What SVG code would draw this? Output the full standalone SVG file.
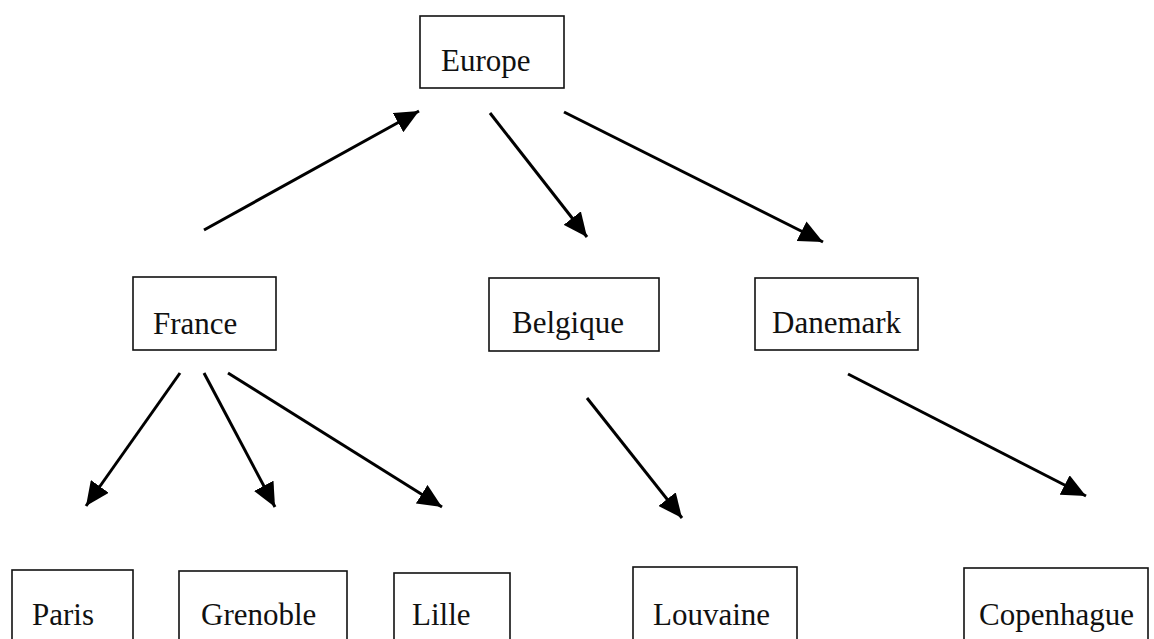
<svg xmlns="http://www.w3.org/2000/svg" width="1154" height="639" viewBox="0 0 1154 639">
  <style>
    .box { fill: #ffffff; stroke: #111111; stroke-width: 1.6; }
    .lbl { font-family: "Liberation Serif", "Times New Roman", serif; font-size: 31px; fill: #111111; }
    .edge { stroke: #000000; stroke-width: 3; fill: none; marker-end: url(#head); }
  </style>
  <defs>
    <marker id="head" markerUnits="userSpaceOnUse" markerWidth="26" markerHeight="22" refX="24" refY="11" orient="auto">
      <path d="M0,0 L24,11 L0,22 Z" fill="#000000"/>
    </marker>
  </defs>
  <rect width="1154" height="639" fill="#ffffff"/>

  <!-- connectors -->
  <g id="connectors">
    <line class="edge" x1="204" y1="230" x2="419" y2="111"/>
    <line class="edge" x1="490" y1="113" x2="587" y2="237"/>
    <line class="edge" x1="564" y1="112" x2="823" y2="242"/>
    <line class="edge" x1="180" y1="373" x2="86" y2="506"/>
    <line class="edge" x1="204" y1="373" x2="275" y2="507"/>
    <line class="edge" x1="228" y1="373" x2="442" y2="507"/>
    <line class="edge" x1="587" y1="398" x2="682" y2="518"/>
    <line class="edge" x1="848" y1="374" x2="1086" y2="496"/>
  </g>

  <!-- nodes -->
  <g id="europe">
    <rect class="box" x="420" y="16" width="144" height="72"/>
    <text class="lbl" x="441" y="71">Europe</text>
  </g>
  <g id="france">
    <rect class="box" x="133" y="277" width="143" height="73"/>
    <text class="lbl" x="153" y="334">France</text>
  </g>
  <g id="belgique">
    <rect class="box" x="489" y="278" width="170" height="73"/>
    <text class="lbl" x="512" y="333">Belgique</text>
  </g>
  <g id="danemark">
    <rect class="box" x="755" y="278" width="163" height="72"/>
    <text class="lbl" x="772" y="333">Danemark</text>
  </g>
  <g id="paris">
    <rect class="box" x="12" y="570" width="121" height="80"/>
    <text class="lbl" x="32" y="625">Paris</text>
  </g>
  <g id="grenoble">
    <rect class="box" x="179" y="571" width="168" height="80"/>
    <text class="lbl" x="201" y="625">Grenoble</text>
  </g>
  <g id="lille">
    <rect class="box" x="394" y="573" width="116" height="80"/>
    <text class="lbl" x="412" y="625">Lille</text>
  </g>
  <g id="louvaine">
    <rect class="box" x="633" y="567" width="164" height="80"/>
    <text class="lbl" x="653" y="625">Louvaine</text>
  </g>
  <g id="copenhague">
    <rect class="box" x="964" y="568" width="184" height="80"/>
    <text class="lbl" x="979" y="625">Copenhague</text>
  </g>
</svg>
